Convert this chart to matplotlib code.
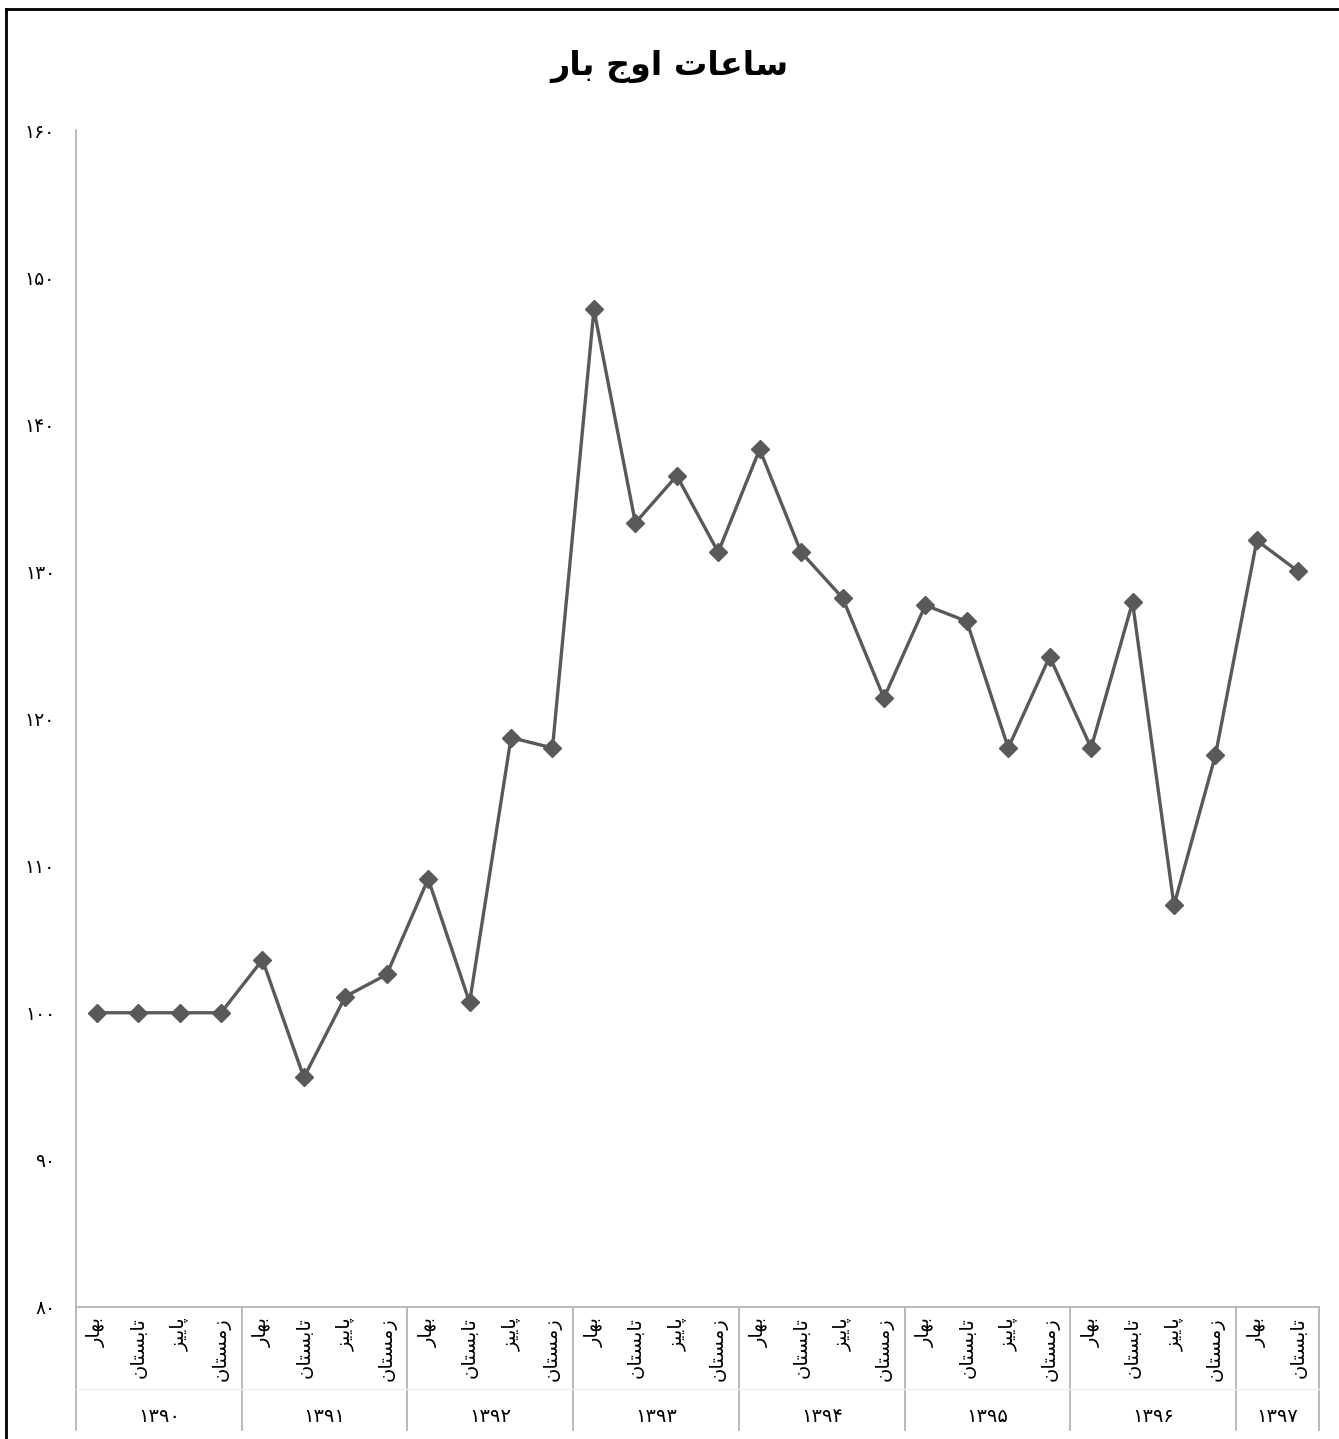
import matplotlib
matplotlib.use("Agg")
import matplotlib.pyplot as plt
from matplotlib.lines import Line2D
import matplotlib.transforms as mtransforms

# data
years = ["1390", "1391", "1392", "1393", "1394", "1395", "1396", "1397"]
seasons = ["بهار", "تابستان", "پاییز", "زمستان"]
season_counts = [4, 4, 4, 4, 4, 4, 4, 2]
values = [100, 100, 100, 100, 103.6, 95.6, 101.1, 102.6, 109.1, 100.7,
          118.7, 118.0, 147.8, 133.3, 136.5, 131.3, 138.3, 131.3, 128.2, 121.4,
          127.7, 126.6, 118.0, 124.2, 118.0, 127.9, 107.3, 117.5, 132.1, 130.0]
y_ticks = [80, 90, 100, 110, 120, 130, 140, 150, 160]
title = "ساعات اوج بار"

# matplotlib has no arabic shaping, so use presentation forms by hand
FORMS = {
    "ا": (0xFE8D, 0xFE8E), "ب": (0xFE8F, 0xFE90, 0xFE91, 0xFE92),
    "پ": (0xFB56, 0xFB57, 0xFB58, 0xFB59), "ت": (0xFE95, 0xFE96, 0xFE97, 0xFE98),
    "ج": (0xFE9D, 0xFE9E, 0xFE9F, 0xFEA0), "ر": (0xFEAD, 0xFEAE),
    "ز": (0xFEAF, 0xFEB0), "س": (0xFEB1, 0xFEB2, 0xFEB3, 0xFEB4),
    "ع": (0xFEC9, 0xFECA, 0xFECB, 0xFECC), "م": (0xFEE1, 0xFEE2, 0xFEE3, 0xFEE4),
    "ن": (0xFEE5, 0xFEE6, 0xFEE7, 0xFEE8), "ه": (0xFEE9, 0xFEEA, 0xFEEB, 0xFEEC),
    "و": (0xFEED, 0xFEEE), "ی": (0xFBFC, 0xFBFD, 0xFBFE, 0xFBFF),
}


def shape(text):
    out = []
    for i, c in enumerate(text):
        if c not in FORMS:
            out.append(c)
            continue
        f = FORMS[c]
        prev = text[i - 1] if i > 0 else " "
        nxt = text[i + 1] if i < len(text) - 1 else " "
        jp = prev in FORMS and len(FORMS[prev]) == 4
        jn = len(f) == 4 and nxt in FORMS
        if jp and jn:
            out.append(chr(f[3]))
        elif jp:
            out.append(chr(f[1]))
        elif jn:
            out.append(chr(f[2]))
        else:
            out.append(chr(f[0]))
    return "".join(out)[::-1]


def fa_digits(s):
    return "".join(chr(0x06F0 + int(c)) if c.isdigit() else c for c in str(s))


plt.rcParams["font.family"] = ["DejaVu Sans"]
fig = plt.figure(figsize=(13.39, 14.39), dpi=100)
ax = fig.add_axes([76 / 1339, 132 / 1439, 1243 / 1339, 1177 / 1439])

x = list(range(len(values)))
ax.plot(x, values, color="#595959", linewidth=2.4, marker="D", markersize=9,
        markerfacecolor="#595959", markeredgecolor="#595959")

ax.set_xlim(-0.5, len(values) - 0.5)
ax.set_ylim(80, 160)
ax.set_yticks(y_ticks)
ax.set_yticklabels([fa_digits(v) for v in y_ticks], fontsize=13.5)
ax.tick_params(axis="y", length=0, pad=15)
ax.set_xticks([])
for s in ["top", "right"]:
    ax.spines[s].set_visible(False)
for s in ["left", "bottom"]:
    ax.spines[s].set_color("#b3b3b3")
    ax.spines[s].set_linewidth(1.3)

# category axis: season labels, year labels and separators
trans = mtransforms.blended_transform_factory(ax.transData, ax.transAxes)
low = -123 / 1177
pos = 0
bounds = [-0.5]
for yr, n in zip(years, season_counts):
    for k in range(n):
        ax.text(pos + k, -10 / 1177, shape(seasons[k]), transform=trans,
                rotation=90, ha="center", va="top", fontsize=14)
    ax.text(pos + (n - 1) / 2, -109 / 1177, fa_digits(yr), transform=trans,
            ha="center", va="center", fontsize=14)
    pos += n
    bounds.append(pos - 0.5)
for b in bounds:
    ax.add_line(Line2D([b, b], [0, low], transform=trans, color="#b3b3b3",
                       linewidth=1.3, clip_on=False))
ax.add_line(Line2D([-0.5, len(values) - 0.5], [-82 / 1177, -82 / 1177],
                   transform=trans, color="#f0f0f0", linewidth=1, clip_on=False))

fig.text(0.5, 1 - 66 / 1439, shape(title), ha="center", va="center",
         fontsize=24, fontweight="bold")

# outer chart border
fig.add_artist(Line2D([6 / 1339, 6 / 1339], [0, 1 - 9 / 1439], color="black",
                      linewidth=2, transform=fig.transFigure))
fig.add_artist(Line2D([6 / 1339, 1], [1 - 9 / 1439, 1 - 9 / 1439], color="black",
                      linewidth=2, transform=fig.transFigure))

fig.savefig("out.png", dpi=100)
